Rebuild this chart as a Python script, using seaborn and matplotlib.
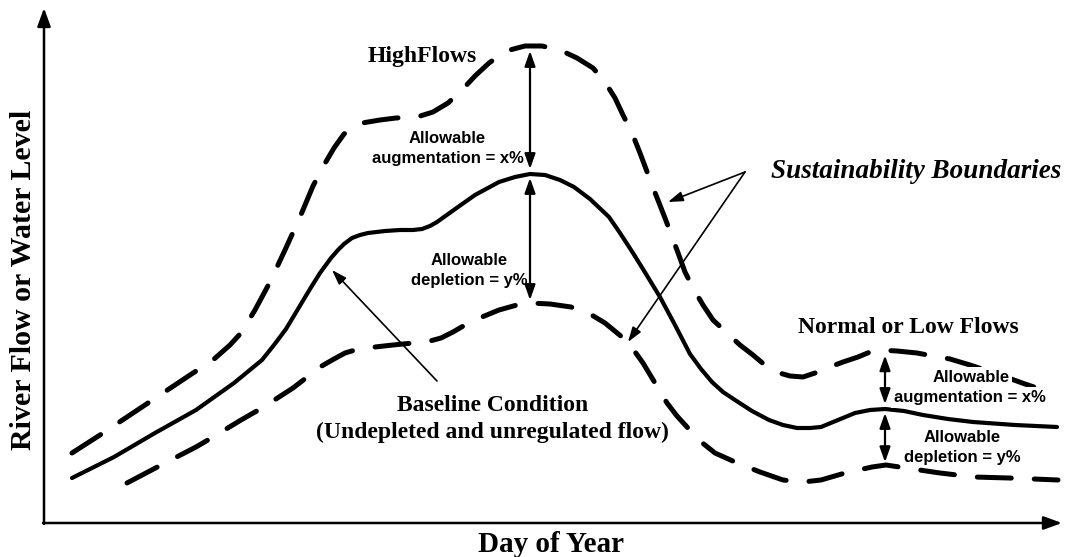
import numpy as np
import pandas as pd
import matplotlib.pyplot as plt
import seaborn as sns

# Curves (x = day position, y = level, screen units, y grows downward)
base_x = [72, 114, 155, 196, 234, 262, 274, 286, 298, 310, 320, 331, 338, 344, 352, 360, 368, 385,
          400, 413, 422, 430, 437, 444, 451, 458, 475, 499, 515, 530, 545, 560, 574, 590, 609, 620,
          633, 646, 660, 675, 690, 701, 712, 723, 735, 752, 769, 783, 797, 810, 821, 838, 855, 870,
          885, 904, 923, 948, 973, 1015, 1057]
base_y = [478, 457, 433, 410, 383, 360, 345, 329, 309, 289, 273, 258, 250, 244, 238, 235, 233, 231,
          230, 230, 229, 226, 222, 217, 212, 207, 195, 182, 177, 174, 175, 180, 187, 199, 217, 233,
          253, 274, 297, 325, 354, 369, 382, 392, 400, 411, 420, 425, 428, 428, 427, 420, 413, 410,
          409, 411, 415, 419, 422, 425, 427]

upper_x = [72, 100, 130, 160, 190, 213, 230, 241, 255, 270, 285, 300, 313, 324, 334, 344, 353, 362,
           380, 396, 417, 433, 448, 462, 475, 489, 506, 525, 542, 560, 577, 593, 605, 615, 623, 632,
           640, 652, 665, 677, 685, 693, 703, 713, 727, 740, 753, 766, 776, 790, 803, 815, 827, 843,
           858, 870, 879, 897, 917, 933, 950, 970, 1000, 1025, 1052]
upper_y = [453, 435, 415, 395, 375, 360, 345, 333, 310, 282, 250, 217, 186, 165, 148, 134, 127, 123,
           120, 118, 117, 112, 103, 90, 76, 63, 51, 46, 46, 50, 58, 68, 82, 98, 115, 133,
           153, 185, 218, 250, 272, 288, 305, 320, 333, 345, 355, 366, 372, 376, 377, 373, 368, 362,
           357, 352, 350, 351, 353, 356, 359, 365, 375, 384, 393]

lower_x = [127, 165, 196, 213, 241, 262, 293, 306, 320, 334, 345, 355, 375, 393, 413, 430, 441, 453,
           465, 482, 499, 517, 530, 550, 571, 590, 605, 622, 633, 643, 655, 667, 677, 687, 700, 715,
           735, 760, 783, 803, 821, 845, 872, 886, 906, 940, 974, 1009, 1058]
lower_y = [483, 463, 447, 437, 420, 408, 388, 378, 367, 359, 353, 350, 347, 345, 343, 341, 338, 332,
           325, 317, 310, 305, 303, 304, 307, 314, 323, 337, 349, 363, 383, 403, 416, 427, 441, 453,
           462, 472, 480, 482, 480, 473, 467, 465, 468, 473, 477, 478, 480]

# where the allowable-range arrows are drawn
arrow_days = [530, 885]

sns.set_style('white')

fig = plt.figure(figsize=(10.66, 5.57), dpi=100)
ax = fig.add_axes([0, 0, 1, 1])

dash_kw = dict(color='black', lw=3.6, linestyle=(0, (6.8, 4.6)), dash_capstyle='round',
               dash_joinstyle='round')
sns.lineplot(x=upper_x, y=upper_y, ax=ax, estimator=None, sort=False, **dash_kw)
sns.lineplot(x=lower_x, y=lower_y, ax=ax, estimator=None, sort=False, **dash_kw)
sns.lineplot(x=base_x, y=base_y, ax=ax, estimator=None, sort=False,
             color='black', lw=3.0, solid_capstyle='round', solid_joinstyle='round')

ax.set_xlim(0, 1066)
ax.set_ylim(557, 0)
ax.axis('off')

# axes drawn as arrows
axis_arrow = dict(arrowstyle='-|>,head_length=1.1,head_width=0.4', lw=1.8, color='black',
                  shrinkA=0, shrinkB=0)
ax.annotate('', xy=(44, 8), xytext=(44, 524), arrowprops=axis_arrow)
ax.annotate('', xy=(1062, 523), xytext=(43, 523), arrowprops=axis_arrow)

# double arrows between the curves
dbl = dict(arrowstyle='<|-|>,head_length=0.9,head_width=0.32', lw=1.6, color='black',
           shrinkA=0, shrinkB=0)
for d in arrow_days:
    up = np.interp(d, upper_x, upper_y)
    mid = np.interp(d, base_x, base_y)
    lo = np.interp(d, lower_x, lower_y)
    ax.annotate('', xy=(d, up + 5), xytext=(d, mid - 5), arrowprops=dbl)
    ax.annotate('', xy=(d, mid + 4), xytext=(d, lo - 3), arrowprops=dbl)

# pointer arrows
thin = dict(arrowstyle='-|>,head_length=0.9,head_width=0.3', lw=1.2, color='black',
            shrinkA=0, shrinkB=0)
ax.annotate('', xy=(332, 270), xytext=(437, 381), arrowprops=thin)
ax.annotate('', xy=(668, 202), xytext=(745, 172), arrowprops=thin)
ax.annotate('', xy=(628, 342), xytext=(745, 172), arrowprops=thin)

serif = dict(family='Liberation Serif', weight='bold', color='black')
sans = dict(family='Liberation Sans', weight='bold', color='black', fontsize=12)

ax.text(422, 62, 'HighFlows', ha='center', va='baseline', fontsize=17, **serif)
ax.text(493, 411, 'Baseline Condition', ha='center', va='baseline', fontsize=17, **serif)
ax.text(492, 438, '(Undepleted and unregulated flow)', ha='center', va='baseline', fontsize=17, **serif)
ax.text(916, 178, 'Sustainability Boundaries', ha='center', va='baseline', fontsize=19.5,
        style='italic', **serif)
ax.text(908, 333, 'Normal or Low Flows', ha='center', va='baseline', fontsize=17, **serif)
ax.text(24, 280, 'River Flow or Water Level', ha='center', va='center', rotation=90,
        fontsize=21.5, **serif)
ax.text(551, 552, 'Day of Year', ha='center', va='baseline', fontsize=21, **serif)

ax.text(447, 143, 'Allowable', ha='center', va='baseline', **sans)
ax.text(448, 163, 'augmentation = x%', ha='center', va='baseline', **sans)
ax.text(469, 265, 'Allowable', ha='center', va='baseline', **sans)
ax.text(469, 285, 'depletion = y%', ha='center', va='baseline', **sans)

box = dict(facecolor='white', edgecolor='none', pad=2)
ax.text(971, 382, 'Allowable', ha='center', va='baseline', bbox=box, zorder=5, **sans)
ax.text(970, 402, 'augmentation = x%', ha='center', va='baseline', bbox=box, zorder=5, **sans)
ax.text(962, 442, 'Allowable', ha='center', va='baseline', **sans)
ax.text(962, 462, 'depletion = y%', ha='center', va='baseline', **sans)

fig.savefig('out.png', dpi=100)
